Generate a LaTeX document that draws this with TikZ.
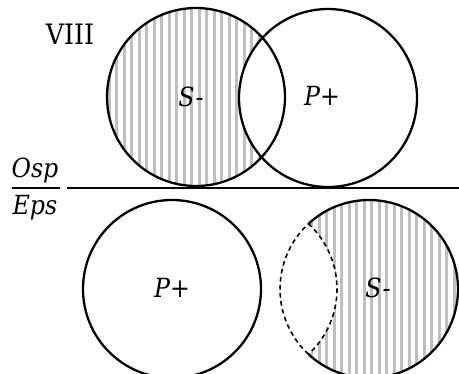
\documentclass[tikz,border=0pt]{standalone}
\usepackage{fontspec}
\setmainfont{DejaVu Serif Condensed}

\tikzset{
  ring/.style={line width=1.3pt},
  lens/.style={line width=0.9pt, dash pattern=on 2.6pt off 2pt},
  stripe/.style={fill=black!25},
  lbl/.style={font=\fontsize{15}{0}\selectfont\itshape},
}

\begin{document}
\begin{tikzpicture}[x=0.02cm, y=-0.02cm]
\useasboundingbox (0,0) rectangle (459,373);
\clip (0,0) rectangle (459,373);

\coordinate (S1) at (196,97);
\coordinate (P1) at (328,98);
\coordinate (P2) at (172,289);
\coordinate (S2) at (369,289);
\coordinate (Q2) at (248,289);

% striped S minus P, upper pair
\begin{scope}
\clip (S1) circle (89);
\foreach \x in {100,107.5,...,300} \fill[stripe] (\x,0) rectangle ++(3.3,200);
\fill[white] (P1) circle (89);
\end{scope}

% striped S minus P, lower pair
\begin{scope}
\clip (S2) circle (89);
\foreach \x in {272.5,280,...,470} \fill[stripe] (\x,190) rectangle ++(3.3,200);
\fill[white] (Q2) circle (89);
\end{scope}

\draw[ring] (S1) circle (89) (P1) circle (89) (P2) circle (89);
\draw[ring] (S2) ++(-132.8:89) arc[start angle=-132.8, end angle=132.8, radius=89];
\draw[lens] (S2) ++(132.8:89) arc[start angle=132.8, end angle=227.2, radius=89];
\draw[lens] (Q2) ++(-47.2:89) arc[start angle=-47.2, end angle=47.2, radius=89];

\node (roman) at (70,34) [font=\fontsize{16}{0}\selectfont] {VIII};
\node (s1) at (191,97) [lbl] {S-};
\node (p1) at (322,96) [lbl] {P+};
\node (p2) at (172,288) [lbl] {P+};
\node (s2) at (378,288) [lbl] {S-};

\node (osp) at (35,170) [lbl] {Osp};
\node (eps) at (35,208) [lbl] {Eps};
\coordinate (FL) at (12,188);
\coordinate (FR) at (60,188);
\coordinate (BL) at (67,188);
\coordinate (BR) at (459,188);
\draw[ring] (FL)--(FR) (BL)--(BR);

\end{tikzpicture}
\end{document}
